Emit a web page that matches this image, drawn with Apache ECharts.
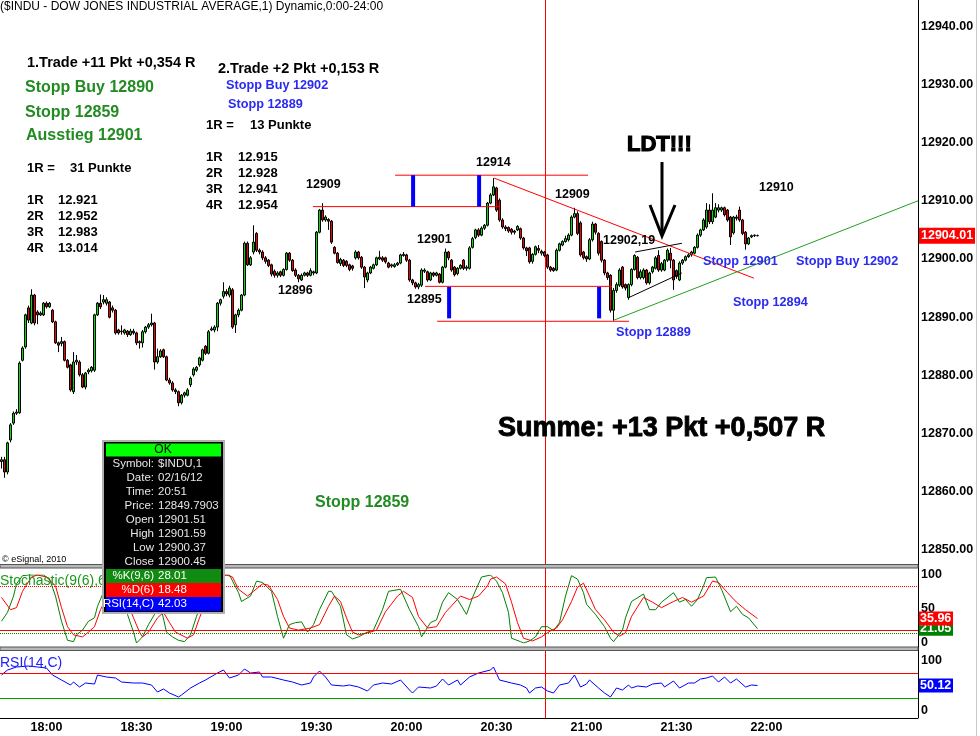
<!DOCTYPE html>
<html><head><meta charset="utf-8">
<script src="https://cdn.jsdelivr.net/npm/echarts@6/dist/echarts.min.js"></script>
<style>html,body{margin:0;padding:0;background:#fff}#c{width:980px;height:736px}</style>
</head><body><div id="c"></div>
<script>
// ---------- DATA ----------
const startMinute = 17 * 60 + 45, nCats = 306;
const categories = [];
for (let k = 0; k < nCats; k++) { const m = startMinute + k; categories.push(String(Math.floor(m / 60)).padStart(2, '0') + ':' + String(m % 60).padStart(2, '0')); }
const timeLabels = ['18:00','18:30','19:00','19:30','20:00','20:30','21:00','21:30','22:00'];
const priceTicks = [12850,12860,12870,12880,12890,12900,12910,12920,12930,12940];

// [open, close, low, high] one per minute starting 17:45
const candles = [
[12865.2,12865.5,12864.0,12866.0],[12865.5,12863.4,12862.4,12866.0],[12863.4,12868.4,12863.0,12868.6],[12868.9,12871.5,12868.5,12871.8],
[12871.8,12873.5,12871.5,12873.8],[12873.5,12873.7,12873.2,12874.2],[12873.6,12882.1,12873.4,12882.4],[12882.6,12884.7,12882.4,12885.0],
[12884.9,12890.4,12884.6,12890.6],[12891.6,12889.5,12889.0,12892.0],[12889.0,12893.8,12888.8,12894.8],[12893.8,12889.0,12888.6,12894.0],
[12890.9,12890.4,12888.8,12891.2],[12890.4,12890.7,12890.2,12891.0],[12890.4,12892.4,12890.2,12892.6],[12892.4,12891.8,12891.5,12892.7],
[12891.8,12892.4,12891.6,12892.6],[12891.2,12889.2,12889.0,12891.4],[12889.2,12885.6,12885.4,12889.4],[12885.6,12885.2,12884.0,12885.8],
[12885.5,12885.8,12885.0,12886.6],[12885.8,12882.6,12882.4,12886.0],[12882.6,12881.4,12881.2,12882.8],[12881.8,12877.5,12877.2,12882.0],
[12877.2,12882.3,12876.8,12884.0],[12882.3,12882.6,12881.8,12883.5],[12882.3,12880.1,12879.8,12882.6],[12880.1,12878.0,12877.8,12880.4],
[12878.0,12880.4,12877.6,12880.6],[12880.6,12880.9,12880.2,12881.2],[12880.8,12881.4,12880.5,12881.6],[12880.9,12890.4,12880.6,12890.6],
[12890.4,12892.4,12890.2,12892.6],[12892.4,12891.8,12891.4,12893.9],[12892.6,12893.0,12892.2,12893.8],[12892.4,12893.0,12892.0,12893.4],
[12892.6,12890.0,12889.8,12892.8],[12891.6,12891.2,12890.8,12892.0],[12891.2,12887.3,12887.0,12891.4],[12887.8,12887.3,12887.0,12888.0],
[12887.5,12887.6,12887.0,12888.6],[12887.3,12887.8,12887.0,12888.0],[12887.6,12887.0,12886.6,12887.8],[12887.0,12887.6,12886.8,12888.0],
[12887.6,12887.3,12887.0,12888.0],[12887.3,12885.6,12885.2,12887.5],[12885.6,12885.8,12884.6,12886.0],[12885.6,12887.5,12884.8,12887.8],
[12887.5,12888.3,12887.2,12888.5],[12888.3,12888.7,12888.0,12889.0],[12888.7,12889.0,12888.4,12890.6],[12889.0,12882.3,12881.0,12889.2],
[12882.3,12883.2,12882.0,12884.6],[12883.2,12884.2,12883.0,12884.5],[12884.4,12883.2,12883.0,12884.6],[12883.2,12879.2,12879.0,12883.4],
[12879.2,12878.7,12878.4,12879.6],[12878.7,12877.5,12877.2,12879.0],[12877.5,12877.2,12876.8,12877.8],[12877.2,12875.3,12874.7,12877.4],
[12875.3,12876.6,12875.0,12876.8],[12876.6,12877.0,12876.2,12877.2],[12876.6,12877.5,12876.4,12877.8],[12878.4,12879.5,12878.0,12879.8],
[12880.1,12881.1,12879.8,12881.4],[12880.9,12881.4,12880.6,12881.6],[12881.8,12883.0,12881.5,12883.2],[12882.6,12884.4,12882.4,12884.6],
[12885.0,12883.8,12883.5,12885.2],[12883.8,12887.5,12883.6,12887.8],[12887.8,12888.0,12887.6,12888.4],[12887.8,12888.3,12887.4,12888.6],
[12888.3,12892.4,12887.6,12892.6],[12892.4,12893.0,12892.0,12893.2],[12893.6,12894.4,12893.2,12896.0],[12894.4,12894.0,12893.6,12894.8],
[12893.8,12895.0,12893.4,12895.4],[12894.7,12888.3,12888.0,12895.0],[12888.7,12890.4,12887.3,12890.6],[12890.4,12891.2,12890.0,12891.5],
[12891.2,12893.8,12891.0,12894.0],[12893.8,12902.7,12893.6,12903.0],[12902.7,12899.0,12898.8,12903.0],[12899.0,12900.2,12898.8,12900.5],
[12901.2,12902.9,12900.8,12905.8],[12904.4,12901.5,12901.2,12904.6],[12901.5,12901.2,12900.8,12901.8],[12901.2,12900.2,12899.8,12901.5],
[12900.2,12899.6,12899.2,12900.5],[12899.8,12898.9,12898.6,12900.0],[12899.0,12897.4,12897.0,12899.2],[12897.9,12897.2,12896.8,12898.2],
[12897.2,12897.6,12896.8,12897.9],[12897.8,12897.2,12896.9,12898.0],[12897.2,12898.2,12897.0,12898.4],[12898.2,12901.0,12898.0,12901.2],
[12901.0,12899.8,12899.5,12901.2],[12899.8,12898.0,12897.8,12900.0],[12898.1,12897.2,12896.9,12898.4],[12897.2,12896.6,12896.0,12897.4],
[12896.4,12897.2,12896.2,12897.5],[12897.2,12897.6,12897.0,12897.8],[12897.6,12897.2,12896.9,12897.8],[12897.2,12898.0,12897.0,12898.4],
[12897.6,12897.8,12897.2,12898.0],[12897.6,12904.6,12897.4,12904.8],[12904.6,12908.4,12904.4,12908.6],[12908.4,12906.7,12906.4,12909.6],
[12906.7,12907.2,12906.4,12907.5],[12906.8,12906.5,12905.0,12907.0],[12906.5,12902.9,12902.6,12906.7],[12902.0,12901.0,12900.8,12902.2],
[12901.0,12899.4,12899.2,12901.2],[12899.2,12899.9,12898.8,12900.2],[12899.8,12898.9,12898.6,12900.0],[12899.6,12898.9,12898.6,12899.8],
[12899.0,12898.2,12897.9,12899.2],[12898.8,12898.4,12898.0,12899.0],[12900.2,12901.2,12899.9,12901.5],[12901.2,12900.2,12899.9,12901.4],
[12900.3,12898.6,12898.3,12900.5],[12898.6,12896.9,12895.0,12898.8],[12896.4,12897.6,12896.0,12897.8],[12897.6,12898.6,12897.4,12898.8],
[12898.4,12899.0,12898.2,12899.2],[12899.0,12900.2,12898.8,12900.4],[12900.0,12900.3,12899.8,12901.4],[12900.2,12899.8,12899.5,12900.5],
[12900.2,12899.5,12899.2,12900.4],[12899.3,12898.6,12898.4,12899.5],[12898.8,12899.0,12898.5,12899.2],[12898.7,12899.0,12898.5,12899.3],
[12899.0,12899.3,12898.8,12899.5],[12899.3,12900.7,12899.1,12900.9],[12900.6,12900.8,12900.4,12901.2],[12900.7,12899.8,12899.5,12900.9],
[12899.8,12896.4,12896.1,12900.0],[12896.4,12895.9,12895.5,12896.6],[12895.9,12895.2,12894.9,12896.1],[12895.2,12895.6,12894.8,12895.9],
[12895.5,12898.1,12895.2,12898.4],[12897.9,12898.1,12897.6,12898.4],[12897.8,12896.4,12896.1,12898.0],[12896.4,12897.6,12896.2,12897.8],
[12897.6,12897.2,12896.9,12897.8],[12897.2,12897.6,12897.0,12897.8],[12897.4,12896.0,12895.8,12897.6],[12896.0,12898.6,12895.8,12898.8],
[12898.6,12901.2,12898.4,12901.8],[12901.2,12900.2,12899.8,12901.4],[12899.8,12898.1,12897.8,12900.0],[12898.6,12897.3,12897.0,12898.8],
[12897.5,12898.4,12897.2,12898.6],[12898.4,12898.9,12898.2,12899.1],[12899.8,12898.4,12898.1,12900.0],[12898.4,12898.6,12898.0,12898.9],
[12898.4,12901.9,12898.2,12902.2],[12902.0,12903.5,12901.8,12903.8],[12903.7,12905.0,12903.4,12905.2],[12905.0,12904.1,12903.8,12905.3],
[12904.1,12905.3,12903.9,12905.6],[12905.3,12905.8,12905.0,12906.0],[12905.8,12909.6,12905.6,12909.8],[12909.6,12911.0,12909.4,12911.3],
[12911.0,12912.4,12910.8,12913.9],[12912.2,12908.4,12908.1,12912.4],[12910.1,12906.7,12906.4,12910.4],[12906.7,12905.5,12905.2,12907.0],
[12905.5,12905.2,12904.8,12905.8],[12905.4,12904.8,12904.5,12905.6],[12905.1,12904.6,12904.2,12905.3],[12904.8,12904.6,12904.2,12905.0],
[12905.0,12905.6,12904.8,12905.8],[12905.2,12903.6,12903.3,12905.4],[12903.6,12901.9,12901.6,12903.8],[12901.9,12901.4,12900.5,12902.1],
[12901.9,12899.5,12899.2,12902.1],[12899.6,12900.8,12899.2,12901.0],[12900.8,12902.1,12900.6,12902.3],[12901.8,12901.5,12901.0,12902.4],
[12901.0,12901.3,12900.6,12901.6],[12901.2,12900.6,12900.3,12901.4],[12900.7,12898.6,12898.3,12900.9],[12898.6,12898.1,12897.8,12898.8],
[12898.4,12898.0,12897.8,12898.6],[12898.1,12901.5,12897.9,12901.8],[12901.5,12902.6,12901.3,12902.8],[12902.4,12903.0,12902.2,12903.2],
[12903.0,12903.5,12902.8,12904.0],[12903.3,12904.1,12903.0,12904.4],[12904.1,12907.2,12903.9,12907.5],[12907.2,12907.8,12907.0,12908.8],
[12907.8,12904.4,12904.1,12908.2],[12906.2,12900.7,12900.4,12906.5],[12901.2,12900.2,12899.9,12901.4],[12900.4,12900.0,12899.5,12900.6],
[12900.0,12903.3,12899.8,12903.6],[12903.3,12906.0,12903.0,12906.4],[12906.0,12904.6,12904.2,12906.2],[12904.4,12901.0,12900.6,12904.6],
[12903.0,12899.8,12899.4,12903.2],[12899.8,12897.6,12897.2,12900.0],[12897.6,12896.8,12896.4,12897.8],[12897.2,12891.2,12890.8,12897.4],
[12891.2,12894.6,12889.4,12895.0],[12894.6,12895.6,12894.2,12896.0],[12895.5,12898.1,12895.2,12898.4],[12898.6,12895.2,12894.9,12898.8],
[12895.6,12895.0,12894.6,12895.8],[12893.4,12895.6,12893.0,12895.8],[12895.6,12898.2,12895.3,12898.4],[12898.2,12900.6,12898.0,12900.8],
[12900.3,12896.8,12896.5,12900.5],[12896.8,12897.8,12896.5,12898.2],[12896.8,12898.1,12896.5,12898.4],[12898.1,12895.9,12895.6,12898.3],
[12895.9,12897.6,12895.6,12897.8],[12897.8,12898.6,12897.5,12898.8],[12898.4,12900.2,12898.2,12900.5],[12900.6,12898.1,12897.8,12901.5],
[12898.1,12899.2,12897.8,12899.5],[12898.1,12899.8,12897.9,12900.0],[12899.8,12901.5,12899.5,12901.8],[12901.0,12899.8,12898.4,12901.9],
[12899.8,12896.4,12894.7,12900.0],[12898.0,12897.0,12896.6,12898.2],[12896.4,12899.3,12896.2,12899.6],[12899.3,12899.8,12899.0,12900.0],
[12899.8,12900.4,12899.6,12900.6],[12900.4,12900.7,12900.2,12901.0],[12900.7,12901.2,12900.4,12901.4],[12901.0,12902.0,12900.8,12902.2],
[12902.0,12904.1,12901.8,12904.4],[12904.1,12905.0,12903.8,12905.2],[12905.0,12906.7,12904.8,12907.0],[12905.5,12908.4,12905.2,12909.6],
[12908.4,12906.4,12906.0,12909.4],[12906.4,12908.4,12906.0,12911.3],[12907.2,12908.8,12907.0,12909.6],[12908.4,12908.8,12908.0,12909.4],
[12908.4,12908.8,12908.1,12909.0],[12908.8,12907.6,12907.3,12909.0],[12908.4,12906.7,12906.4,12908.6],[12907.2,12903.8,12902.4,12907.4],
[12904.5,12907.2,12904.2,12907.4],[12907.2,12907.0,12906.6,12907.6],[12908.4,12906.7,12906.4,12909.0],[12906.7,12904.4,12904.1,12906.9],
[12904.6,12902.6,12901.6,12904.8],[12902.6,12903.6,12902.4,12903.8],[12903.8,12904.0,12903.6,12904.2],[12904.0,12904.1,12903.8,12904.2],
[12904.0,12904.01,12903.9,12904.2]
];

// Stochastic %K, %D and RSI: [candle index, value]
const stochK = [[0,32],[2,45],[4,69],[5,87],[7,99],[9,100],[11,100],[14,100],[16,94],[18,69],[20,32],[22,4],[24,2],[25,12],[27,19],[29,32],[31,37],[32,54],[35,85],[37,100],[39,80],[42,42],[44,16],[45,0],[47,9],[49,27],[51,42],[53,55],[55,16],[57,9],[59,4],[61,2],[63,12],[65,39],[68,75],[71,100],[74,100],[76,100],[79,74],[80,61],[83,69],[85,91],[87,89],[90,76],[92,39],[94,7],[96,27],[98,30],[100,31],[102,16],[104,27],[106,49],[109,76],[110,76],[113,54],[115,12],[117,6],[119,9],[122,16],[124,19],[127,49],[129,76],[133,79],[136,49],[139,24],[140,9],[143,30],[145,34],[147,60],[149,74],[152,64],[155,42],[157,67],[160,97],[163,100],[165,91],[167,74],[169,45],[170,7],[173,2],[174,0],[176,3],[178,9],[180,24],[182,24],[184,18],[186,30],[188,69],[190,99],[192,94],[194,74],[195,57],[198,42],[201,24],[203,7],[204,2],[207,19],[208,37],[210,61],[214,72],[216,49],[218,49],[220,60],[224,74],[226,60],[228,64],[230,54],[232,64],[234,84],[235,96],[238,97],[240,79],[243,46],[245,54],[247,42],[249,37],[252,21]];
const stochD = [[0,67],[3,49],[5,52],[7,76],[10,97],[12,100],[15,97],[18,84],[20,52],[22,24],[24,12],[27,9],[29,16],[31,24],[33,49],[36,75],[39,90],[41,70],[44,37],[46,16],[47,9],[49,16],[52,37],[54,45],[56,30],[58,16],[62,7],[64,12],[66,37],[69,70],[72,95],[75,100],[77,97],[79,79],[82,69],[84,76],[87,87],[89,85],[92,64],[94,39],[96,22],[99,19],[103,22],[106,27],[109,54],[111,69],[113,61],[115,37],[117,16],[119,12],[123,16],[125,19],[128,46],[132,69],[134,76],[137,67],[139,39],[142,22],[145,24],[148,45],[153,69],[156,64],[159,69],[162,84],[163,94],[165,97],[168,87],[170,60],[172,30],[174,7],[177,3],[180,9],[183,18],[185,22],[187,34],[190,61],[192,82],[194,88],[196,69],[198,49],[201,34],[204,16],[206,10],[208,15],[210,39],[214,67],[217,60],[220,52],[224,61],[227,67],[230,60],[234,69],[237,91],[239,89],[242,74],[245,60],[248,49],[252,36]];
const rsi = [[0,71],[2,81],[5,87],[9,89],[12,87],[15,85],[17,71],[20,61],[23,51],[24,57],[26,47],[28,55],[31,53],[32,71],[35,67],[38,65],[40,57],[44,55],[47,55],[50,51],[52,37],[54,43],[56,35],[59,27],[60,31],[63,45],[66,55],[68,61],[72,75],[74,81],[76,65],[79,71],[81,83],[83,75],[86,77],[87,67],[90,67],[94,61],[97,57],[100,51],[103,55],[104,67],[106,79],[108,67],[110,51],[114,49],[116,51],[119,47],[122,39],[124,51],[127,55],[130,53],[133,61],[136,41],[137,35],[139,47],[143,45],[145,49],[147,63],[149,51],[152,61],[153,51],[156,67],[159,75],[163,81],[164,87],[166,61],[170,55],[173,51],[175,45],[176,35],[178,45],[180,47],[182,39],[184,35],[186,51],[189,55],[191,71],[193,47],[195,53],[196,61],[199,45],[201,35],[203,27],[205,45],[207,41],[209,51],[210,45],[212,49],[215,47],[217,53],[220,55],[221,47],[224,59],[226,45],[229,55],[231,55],[233,63],[235,65],[237,69],[239,57],[241,67],[243,55],[245,63],[248,47],[250,51],[252,50]];
const stochLevels = [84, 19, 14.5];
const rsiLevels = [75, 25];
const lastPrice = 12904.01, lastK = 21.05, lastD = 35.96, lastRsi = 50.12;

// drawn annotations in (candle index, price)
const annotations = [
  {from:[103.8,12909], to:[166.2,12909], color:'#ff0000', width:1},
  {from:[131.2,12914.4], to:[195.5,12914.4], color:'#ff0000', width:1},
  {from:[141.2,12895.3], to:[203.5,12895.3], color:'#ff0000', width:1},
  {from:[145.2,12889.3], to:[209.2,12889.3], color:'#ff0000', width:1},
  {from:[137.2,12909], to:[137.2,12914.4], color:'#0000ff', width:4},
  {from:[159.2,12909], to:[159.2,12914.4], color:'#0000ff', width:4},
  {from:[149.2,12889.8], to:[149.2,12895.2], color:'#0000ff', width:4},
  {from:[199.2,12889.8], to:[199.2,12895.2], color:'#0000ff', width:4},
  {from:[164.2,12913.9], to:[250.8,12896.7], color:'#ff0000', width:1},
  {from:[204.2,12889.5], to:[305.5,12910.0], color:'#22a022', width:1},
  {from:[211.2,12901.2], to:[226.8,12902.7], color:'#000000', width:1},
  {from:[208.8,12893.3], to:[226.8,12897.6], color:'#000000', width:1}
];

// ---------- CHART ----------
const FF = "'Liberation Sans', Arial, sans-serif";
const chart = echarts.init(document.getElementById('c'), null, {renderer:'canvas'});
const axLbl = {fontFamily:FF, fontWeight:'bold', fontSize:12.5, color:'#000', margin:3};
const option = {
  animation:false, backgroundColor:'#ffffff',
  grid:[{left:0, top:0, width:918, height:566},{left:0, top:575, width:918, height:68},{left:0, top:660.5, width:918, height:50}],
  xAxis:[
    {type:'category', gridIndex:0, data:categories, show:false, boundaryGap:true},
    {type:'value', gridIndex:0, min:-0.5, max:305.5, show:false, position:'top'},
    {type:'value', gridIndex:1, min:-0.5, max:305.5, show:false},
    {type:'value', gridIndex:2, min:-0.5, max:305.5, show:false, position:'top'},
    {type:'category', gridIndex:2, data:categories, position:'bottom', offset:7.5, boundaryGap:true,
     axisLine:{show:true, lineStyle:{color:'#000', width:1}}, axisTick:{show:false}, splitLine:{show:false},
     axisLabel:Object.assign({}, axLbl, {interval:(i, v) => timeLabels.indexOf(v) >= 0, margin:3})}
  ],
  yAxis:[
    {type:'value', gridIndex:0, position:'right', min:12847.25, max:12944.5, axisLine:{show:false}, axisTick:{show:false}, splitLine:{show:false},
     axisLabel:Object.assign({}, axLbl, {customValues:priceTicks, formatter:v => Number(v).toFixed(2)})},
    {type:'value', gridIndex:1, position:'right', min:0, max:100, interval:50, axisLine:{show:false}, axisTick:{show:false}, splitLine:{show:false}, axisLabel:axLbl},
    {type:'value', gridIndex:2, position:'right', min:0, max:100, interval:100, axisLine:{show:false}, axisTick:{show:false}, splitLine:{show:false}, axisLabel:axLbl}
  ],
  series:[
    {type:'candlestick', xAxisIndex:0, yAxisIndex:0, data:candles, barWidth:2.6, silent:true, z:2,
     itemStyle:{color:'#00e000', color0:'#f00000', borderColor:'#000', borderColor0:'#000', borderColorDoji:'#000', borderWidth:1}},
    ...annotations.map(a => ({type:'line', xAxisIndex:1, yAxisIndex:0, data:[a.from, a.to], symbol:'none', silent:true, z:3,
      lineStyle:{color:a.color, width:a.width}})),
    {type:'line', xAxisIndex:2, yAxisIndex:1, data:stochK, symbol:'none', silent:true, z:3, lineStyle:{color:'#008000', width:1},
     markLine:{silent:true, symbol:['none','none'], label:{show:false}, animation:false, data:[
       {yAxis:stochLevels[0], lineStyle:{color:'#ff0000', type:'dotted', width:1}},
       {yAxis:stochLevels[1], lineStyle:{color:'#ff0000', type:'solid', width:1}},
       {yAxis:stochLevels[2], lineStyle:{color:'#008000', type:'dotted', width:1}}]}},
    {type:'line', xAxisIndex:2, yAxisIndex:1, data:stochD, symbol:'none', silent:true, z:3, lineStyle:{color:'#ff0000', width:1}},
    {type:'line', xAxisIndex:3, yAxisIndex:2, data:rsi, symbol:'none', silent:true, z:3, lineStyle:{color:'#0000ff', width:1},
     markLine:{silent:true, symbol:['none','none'], label:{show:false}, animation:false, data:[
       {yAxis:rsiLevels[0], lineStyle:{color:'#ff0000', type:'solid', width:1}},
       {yAxis:rsiLevels[1], lineStyle:{color:'#00a000', type:'solid', width:1}}]}}
  ]
};
chart.setOption(option);

// ---------- GRAPHICS (text annotations, frame, info box) ----------
function txt(x, y, s, font, fill, extra) {
  const st = {text:s, font:font, fill:fill, textAlign:'left', align:'left', textVerticalAlign:'middle', verticalAlign:'middle'};
  if (extra) Object.assign(st, extra);
  return {type:'text', x:x, y:y, z:50, silent:true, style:st};
}
function ln(x1, y1, x2, y2, stroke, w, z) { return {type:'line', z:(z == null ? 40 : z), silent:true, shape:{x1:x1, y1:y1, x2:x2, y2:y2}, style:{stroke:stroke, lineWidth:w}}; }
function rc(x, y, w, h, fill, z, stroke, lw) { return {type:'rect', z:(z == null ? 40 : z), silent:true, shape:{x:x, y:y, width:w, height:h}, style:{fill:fill, stroke:stroke || null, lineWidth:lw || 0}}; }

const G = '#228b22', B = '#2a2af0', K = '#000';
const fB = s => 'bold ' + s + 'px ' + FF, fN = s => s + 'px ' + FF;
const els = [];
// frame lines
els.push(ln(545.5, 0, 545.5, 718, '#ff0000', 1, 1));
els.push(ln(918.5, 0, 918.5, 718, '#000', 1));
els.push(ln(976.5, 0, 976.5, 736, '#c8c8c8', 1));
els.push(rc(0, 564.5, 918, 3.5, '#b8b8b8', 40, '#555', 1));
els.push(rc(0, 647, 918, 3.5, '#b8b8b8', 40, '#555', 1));
// title
els.push(txt(0, 7, '($INDU - DOW JONES INDUSTRIAL AVERAGE,1) Dynamic,0:00-24:00', fN(12), K));
// trade 1
els.push(txt(27, 63, '1.Trade +11 Pkt +0,354 R', fB(14.5), K));
els.push(txt(25, 88, 'Stopp Buy 12890', fB(16), G));
els.push(txt(25, 113, 'Stopp 12859', fB(16), G));
els.push(txt(26, 136, 'Ausstieg 12901', fB(16), G));
els.push(txt(27, 168, '1R =', fB(13), K)); els.push(txt(70, 168, '31 Punkte', fB(13), K));
[['1R','12.921'],['2R','12.952'],['3R','12.983'],['4R','13.014']].forEach((r, k) => { els.push(txt(27, 200 + 16 * k, r[0], fB(13), K)); els.push(txt(58, 200 + 16 * k, r[1], fB(13), K)); });
// trade 2
els.push(txt(218, 69, '2.Trade +2 Pkt +0,153 R', fB(14.5), K));
els.push(txt(226, 85, 'Stopp Buy 12902', fB(12.7), B));
els.push(txt(228, 104, 'Stopp 12889', fB(12.7), B));
els.push(txt(206, 125, '1R =', fB(13), K)); els.push(txt(250, 125, '13 Punkte', fB(13), K));
[['1R','12.915'],['2R','12.928'],['3R','12.941'],['4R','12.954']].forEach((r, k) => { els.push(txt(206, 157 + 16 * k, r[0], fB(13), K)); els.push(txt(238, 157 + 16 * k, r[1], fB(13), K)); });
// price notes
[[306,185,'12909'],[417,240,'12901'],[278,291,'12896'],[407,300,'12895'],[476,163,'12914'],[555,195,'12909'],[603,241,'12902,19'],[759,188,'12910']]
  .forEach(p => els.push(txt(p[0], p[1], p[2], fB(12.5), K)));
els.push(txt(627, 145, 'LDT!!!', fB(22), K, {stroke:'#000', lineWidth:1.2}));
els.push(ln(662, 162, 662, 233, '#000', 3));
els.push({type:'polyline', z:40, silent:true, shape:{points:[[650,205],[662,236],[675,205]]}, style:{stroke:'#000', lineWidth:3, fill:null}});
els.push(txt(703, 261, 'Stopp 12901', fB(12.7), B));
els.push(txt(796, 261, 'Stopp Buy 12902', fB(12.7), B));
els.push(txt(733, 302, 'Stopp 12894', fB(12.7), B));
els.push(txt(616, 332, 'Stopp 12889', fB(12.7), B));
els.push(txt(498, 429, 'Summe: +13 Pkt +0,507 R', fB(27), K, {stroke:'#000', lineWidth:0.9}));
els.push(txt(315, 503, 'Stopp 12859', fB(16), G));
els.push(txt(2, 560, '\u00a9 eSignal, 2010', fN(9), K));
els.push(txt(0, 581, 'Stochastic(9(6),6)', fN(14), '#1a9a1a'));
els.push(txt(0, 663, 'RSI(14,C)', fN(14), '#2020ff'));
// info box
els.push(rc(103, 441, 121, 172, '#000', 60, '#b0b0b0', 2));
els.push(rc(106, 443.5, 115, 13, '#00ff00', 61));
els.push(Object.assign(txt(163, 450, 'OK', fN(12), '#000', {textAlign:'center', align:'center'}), {z:62}));
const rows = [['Symbol:','$INDU,1'],['Date:','02/16/12'],['Time:','20:51'],['Price:','12849.7903'],['Open','12901.51'],['High','12901.59'],['Low','12900.37'],['Close','12900.45']];
rows.forEach((r, k) => {
  const y = 464 + 14 * k;
  els.push(Object.assign(txt(154, y, r[0], fN(11.5), '#e6e6e6', {textAlign:'right', align:'right'}), {z:62}));
  els.push(Object.assign(txt(158, y, r[1], fN(11.5), '#e6e6e6'), {z:62}));
});
[['%K(9,6)','28.01','#108a10'],['%D(6)','18.48','#ff0000'],['RSI(14,C)','42.03','#0000ff']].forEach((r, k) => {
  const y = 569 + 14 * k;
  els.push(rc(106, y, 115, 14, r[2], 61));
  els.push(Object.assign(txt(154, y + 7, r[0], fN(11.5), '#ffffff', {textAlign:'right', align:'right'}), {z:62}));
  els.push(Object.assign(txt(158, y + 7, r[1], fN(11.5), '#ffffff'), {z:62}));
});
// last value boxes (positions from the axes)
const yP = chart.convertToPixel({yAxisIndex:0}, lastPrice);
const yK = chart.convertToPixel({yAxisIndex:1}, lastK);
const yD = chart.convertToPixel({yAxisIndex:1}, lastD);
const yR = chart.convertToPixel({yAxisIndex:2}, lastRsi);
els.push(rc(919, yP - 8, 56, 16, '#ff0000', 45)); els.push(Object.assign(txt(921, yP, lastPrice.toFixed(2), fB(12.5), '#fff'), {z:46}));
els.push(rc(919, yK - 7, 34, 14, '#008000', 45)); els.push(Object.assign(txt(920, yK, lastK.toFixed(2), fB(12.5), '#fff'), {z:46}));
els.push(rc(919, yD - 7, 34, 14, '#ff0000', 47)); els.push(Object.assign(txt(920, yD, lastD.toFixed(2), fB(12.5), '#fff'), {z:48}));
els.push(rc(919, yR - 7, 34, 14, '#0000ff', 45)); els.push(Object.assign(txt(920, yR, lastRsi.toFixed(2), fB(12.5), '#fff'), {z:46}));
chart.setOption({graphic:{elements:els}});
</script></body></html>
